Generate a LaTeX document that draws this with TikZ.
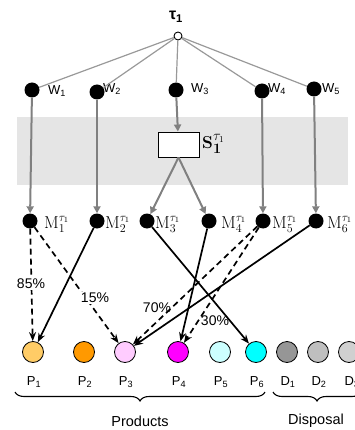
\documentclass[tikz,border=0pt]{standalone}
\usepackage[no-math]{fontspec}
\setmainfont{Liberation Sans}
\usetikzlibrary{arrows.meta,decorations.pathreplacing}

\definecolor{band}{HTML}{E5E5E5}
\definecolor{flowgray}{HTML}{808080}
\definecolor{linkgray}{HTML}{999999}
\definecolor{pA}{HTML}{FFCC66}
\definecolor{pB}{HTML}{FF9900}
\definecolor{pC}{HTML}{FFCCFF}
\definecolor{pD}{HTML}{FF00FF}
\definecolor{pE}{HTML}{CCFFFF}
\definecolor{pF}{HTML}{00FFFF}
\definecolor{dA}{HTML}{969696}
\definecolor{dB}{HTML}{BFBFBF}
\definecolor{dC}{HTML}{D0D0D0}

\tikzset{
  rootdot/.style={circle, draw=black, fill=white, line width=0.9pt, minimum size=8pt, inner sep=0pt},
  blackdot/.style={circle, fill=black, minimum size=15pt, inner sep=0pt},
  sbox/.style={draw=black, fill=white, line width=0.9pt, minimum width=41pt, minimum height=25pt, inner sep=0pt},
  prod/.style={circle, draw=black, line width=0.8pt, minimum size=21pt, inner sep=0pt},
  wlab/.style={anchor=west, inner sep=0pt, font=\fontsize{13}{15}\selectfont},
  mlab/.style={anchor=west, inner sep=0pt, font=\fontsize{17}{19}\selectfont},
  plab/.style={inner sep=0pt, font=\fontsize{13}{15}\selectfont},
  pct/.style={inner sep=1pt, font=\fontsize{14}{16}\selectfont},
  grouplab/.style={inner sep=0pt, font=\fontsize{14.5}{17}\selectfont},
  toplink/.style={draw=linkgray, line width=1.2pt},
  grayflow/.style={draw=flowgray, line width=2pt, -{Triangle[length=7pt,width=7pt]}},
  solidflow/.style={draw=black, line width=1.7pt, -{Stealth[length=9pt,width=7pt]}},
  dashflow/.style={draw=black, line width=1.7pt, dash pattern=on 6pt off 4pt, -{Stealth[length=9pt,width=7pt]}},
  groupbrace/.style={draw=black, line width=1.1pt, decorate, decoration={brace, mirror, amplitude=9pt}}
}

\begin{document}
\begin{tikzpicture}[x=1pt, y=-1pt]
\useasboundingbox (0,0) rectangle (355,430);

% shaded stage band
\fill[band] (17,117) rectangle (348,185);

% root
\node[rootdot] (t) at (178,36) {};
\node[inner sep=0pt, font=\bfseries\fontsize{16}{18}\selectfont] (tl) at (176,17) {τ\textsubscript{1}};

% W nodes
\node[blackdot] (w1) at (32,90) {};
\node[blackdot] (w2) at (97,92) {};
\node[blackdot] (w3) at (176,90) {};
\node[blackdot] (w4) at (262,91) {};
\node[blackdot] (w5) at (314,89) {};
\node[wlab] (w1l) at (48,91) {W\textsubscript{1}};
\node[wlab] (w2l) at (103,89) {W\textsubscript{2}};
\node[wlab] (w3l) at (191,89) {W\textsubscript{3}};
\node[wlab] (w4l) at (268,89) {W\textsubscript{4}};
\node[wlab] (w5l) at (322,89) {W\textsubscript{5}};

\foreach \w in {w1,w2,w3,w4,w5} \draw[toplink] (t) -- (\w);

% stage box
\node[sbox] (s) at (178.5,144.5) {};
\node[anchor=west, inner sep=0pt, font=\fontsize{19}{21}\selectfont] (sl) at (202,144) {$\mathbf{S}_{\mathbf{1}}^{\tau_1}$};

% M nodes
\node[blackdot] (m1) at (30,221) {};
\node[blackdot] (m2) at (97,221) {};
\node[blackdot] (m3) at (147,221) {};
\node[blackdot] (m4) at (209,221) {};
\node[blackdot] (m5) at (263,221) {};
\node[blackdot] (m6) at (316,221) {};
\node[mlab] (m1l) at (44,224) {$\mathrm{M}_1^{\tau_1}$};
\node[mlab] (m2l) at (105,224) {$\mathrm{M}_2^{\tau_1}$};
\node[mlab] (m3l) at (155,224) {$\mathrm{M}_3^{\tau_1}$};
\node[mlab] (m4l) at (221,224) {$\mathrm{M}_4^{\tau_1}$};
\node[mlab] (m5l) at (272,224) {$\mathrm{M}_5^{\tau_1}$};
\node[mlab] (m6l) at (327,224) {$\mathrm{M}_6^{\tau_1}$};

% gray flows
\draw[grayflow] (w1) -- (m1);
\draw[grayflow] (w2) -- (m2);
\draw[grayflow] (w3) -- (s);
\draw[grayflow] (s.south) -- (m3);
\draw[grayflow] (s.south) -- (m4);
\draw[grayflow] (w4) -- (m5);
\draw[grayflow] (w5) -- (m6);

% products and disposal
\node[prod, fill=pA] (p1) at (33,352) {};
\node[prod, fill=pB] (p2) at (84,352) {};
\node[prod, fill=pC] (p3) at (125,352) {};
\node[prod, fill=pD] (p4) at (178,352) {};
\node[prod, fill=pE] (p5) at (220,352) {};
\node[prod, fill=pF] (p6) at (256,352) {};
\node[prod, fill=dA] (d1) at (287,352) {};
\node[prod, fill=dB] (d2) at (318,352) {};
\node[prod, fill=dC] (d3) at (349,352) {};

\node[plab] (p1l) at (34,382) {P\textsubscript{1}};
\node[plab] (p2l) at (85,382) {P\textsubscript{2}};
\node[plab] (p3l) at (126,382) {P\textsubscript{3}};
\node[plab] (p4l) at (179,382) {P\textsubscript{4}};
\node[plab] (p5l) at (221,382) {P\textsubscript{5}};
\node[plab] (p6l) at (257,382) {P\textsubscript{6}};
\node[plab] (d1l) at (288,382) {D\textsubscript{1}};
\node[plab] (d2l) at (319,382) {D\textsubscript{2}};
\node[plab] (d3l) at (352,382) {D\textsubscript{3}};

% allocations
\draw[dashflow] (m1) -- (p1);
\draw[dashflow] (m1) -- (p3);
\draw[solidflow] (m2) -- (p1);
\draw[solidflow] (m3) -- (p6);
\draw[solidflow] (m4) -- (p4);
\draw[dashflow] (m5) -- (p3);
\draw[dashflow] (m5) -- (p4);
\draw[solidflow] (m6) -- (p3);

\node[pct, fill=white] (q85) at (31,284) {85\%};
\node[pct, fill=white] (q15) at (95,298) {15\%};
\node[pct] (q70) at (157,308) {70\%};
\node[pct] (q30) at (215,321) {30\%};

% groups
\coordinate (b1a) at (15,392);
\coordinate (b1b) at (265,392);
\coordinate (b2a) at (273,392);
\coordinate (b2b) at (361,392);
\draw[groupbrace] (b1a) -- (b1b);
\draw[groupbrace] (b2a) -- (b2b);
\node[grouplab] (gp) at (140,421) {Products};
\node[grouplab] (gd) at (316,421) {Disposal};
\end{tikzpicture}
\end{document}
